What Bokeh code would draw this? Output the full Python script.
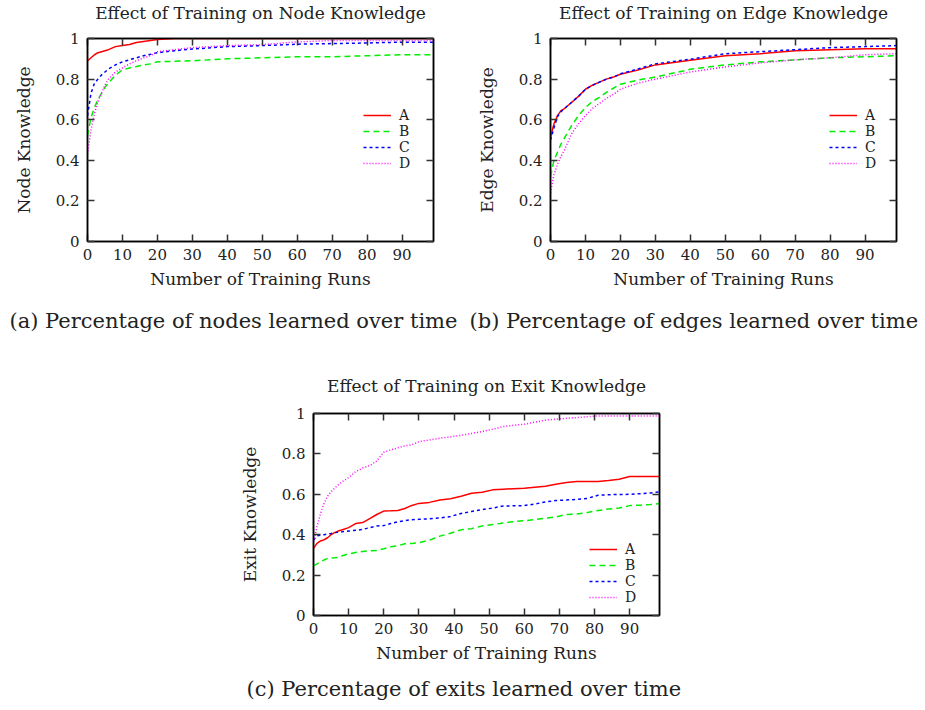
from bokeh.plotting import figure
from bokeh.models import Range1d, FixedTicker, LinearAxis, Legend, LegendItem, Title
from bokeh.layouts import column, row
from bokeh.embed import file_html
from bokeh.resources import INLINE

# ---------------- data ----------------
series_names = ["A", "B", "C", "D"]
x_ticks = [0, 10, 20, 30, 40, 50, 60, 70, 80, 90]
x_tick_labels = ["0", "10", "20", "30", "40", "50", "60", "70", "80", "90"]
y_ticks = [0, 0.2, 0.4, 0.6, 0.8, 1.0]
y_tick_labels = ["0", "0.2", "0.4", "0.6", "0.8", "1"]

runs = [0, 1, 2, 3, 4, 5, 6, 8, 10, 12, 14, 16, 18, 20, 25, 30, 40, 50, 60, 70, 80, 90, 99]

node_A = [0.89, 0.905, 0.92, 0.93, 0.935, 0.94, 0.945, 0.96, 0.965, 0.97, 0.98, 0.985, 0.99, 0.995, 1.0, 1.0, 1.0, 1.0, 1.0, 1.0, 1.0, 1.0, 1.0]
node_B = [0.52, 0.61, 0.66, 0.70, 0.73, 0.76, 0.78, 0.82, 0.845, 0.855, 0.862, 0.87, 0.875, 0.885, 0.888, 0.89, 0.90, 0.905, 0.91, 0.91, 0.915, 0.92, 0.92]
node_C = [0.62, 0.73, 0.78, 0.80, 0.82, 0.835, 0.85, 0.87, 0.885, 0.895, 0.905, 0.915, 0.922, 0.93, 0.94, 0.948, 0.96, 0.965, 0.972, 0.975, 0.978, 0.982, 0.982]
node_D = [0.43, 0.55, 0.63, 0.69, 0.73, 0.77, 0.80, 0.835, 0.855, 0.875, 0.89, 0.905, 0.915, 0.935, 0.945, 0.955, 0.965, 0.97, 0.983, 0.99, 0.99, 0.99, 0.99]

edge_A = [0.515, 0.58, 0.62, 0.645, 0.655, 0.67, 0.685, 0.715, 0.75, 0.77, 0.785, 0.80, 0.81, 0.824, 0.845, 0.87, 0.893, 0.915, 0.925, 0.94, 0.945, 0.95, 0.95]
edge_B = [0.32, 0.40, 0.44, 0.48, 0.51, 0.54, 0.57, 0.62, 0.66, 0.69, 0.71, 0.735, 0.755, 0.775, 0.795, 0.81, 0.848, 0.87, 0.885, 0.895, 0.905, 0.91, 0.915]
edge_C = [0.50, 0.56, 0.615, 0.64, 0.655, 0.67, 0.685, 0.715, 0.75, 0.77, 0.785, 0.80, 0.81, 0.826, 0.85, 0.875, 0.898, 0.925, 0.935, 0.945, 0.955, 0.96, 0.965]
edge_D = [0.24, 0.33, 0.38, 0.42, 0.45, 0.49, 0.53, 0.58, 0.62, 0.655, 0.68, 0.705, 0.725, 0.75, 0.78, 0.80, 0.835, 0.86, 0.88, 0.895, 0.905, 0.92, 0.925]

exit_runs = [0, 1, 2, 3, 4, 5, 6, 7, 8, 10, 12, 14, 16, 18, 20, 22, 24, 26, 28, 30, 33, 36, 39, 42, 45, 48, 51, 54, 57, 60, 63, 66, 69, 72, 75, 78, 81, 84, 87, 90, 93, 96, 99]
exit_A = [0.332, 0.357, 0.369, 0.375, 0.385, 0.40, 0.41, 0.418, 0.423, 0.435, 0.455, 0.46, 0.48, 0.50, 0.517, 0.518, 0.52, 0.53, 0.545, 0.555, 0.56, 0.572, 0.578, 0.59, 0.605, 0.61, 0.622, 0.625, 0.628, 0.63, 0.635, 0.64, 0.65, 0.658, 0.663, 0.663, 0.663, 0.668, 0.675, 0.688, 0.688, 0.688, 0.688]
exit_B = [0.246, 0.256, 0.266, 0.275, 0.283, 0.285, 0.286, 0.288, 0.295, 0.305, 0.312, 0.317, 0.32, 0.322, 0.33, 0.34, 0.345, 0.355, 0.357, 0.36, 0.373, 0.393, 0.407, 0.424, 0.43, 0.443, 0.45, 0.458, 0.465, 0.469, 0.475, 0.482, 0.488, 0.50, 0.502, 0.51, 0.52, 0.527, 0.532, 0.544, 0.546, 0.55, 0.555]
exit_C = [0.373, 0.395, 0.398, 0.40, 0.403, 0.406, 0.41, 0.412, 0.414, 0.418, 0.422, 0.426, 0.435, 0.443, 0.445, 0.455, 0.464, 0.47, 0.474, 0.476, 0.479, 0.483, 0.49, 0.505, 0.515, 0.524, 0.532, 0.542, 0.543, 0.544, 0.552, 0.562, 0.569, 0.572, 0.575, 0.58, 0.595, 0.598, 0.599, 0.60, 0.603, 0.607, 0.613]
exit_D = [0.365, 0.44, 0.506, 0.555, 0.59, 0.613, 0.63, 0.646, 0.66, 0.683, 0.712, 0.73, 0.742, 0.765, 0.808, 0.82, 0.83, 0.84, 0.845, 0.861, 0.869, 0.878, 0.884, 0.892, 0.901, 0.911, 0.922, 0.935, 0.942, 0.947, 0.957, 0.967, 0.972, 0.976, 0.98, 0.984, 0.988, 0.988, 0.988, 0.988, 0.988, 0.988, 0.988]

# ---------------- styles ----------------
SERIF = "DejaVu Serif"
colors = ["#ff0000", "#00ee00", "#0000ff", "#ff00ff"]
dashes = ["solid", "6 4", "3 3", "1 2"]


def make_panel(title, ylabel, caption, xs, ys_list, width, height, borders,
               x_end, legend_loc, cap_offset, top_pad, cap_standoff):
    bl, br, bt, bb = borders
    p = figure(width=width, height=height, output_backend="svg",
               toolbar_location=None,
               x_range=Range1d(0, x_end), y_range=Range1d(0, 1),
               min_border_left=bl, min_border_right=br,
               min_border_top=bt, min_border_bottom=bb,
               title=title)
    p.background_fill_color = "white"
    p.border_fill_color = "white"
    p.outline_line_color = "black"
    p.outline_line_width = 1.5
    p.xgrid.visible = False
    p.ygrid.visible = False

    p.title.align = "center"
    p.title.text_font = SERIF
    p.title.text_font_style = "normal"
    p.title.text_font_size = "17px"
    p.title.text_color = "#222222"
    p.title.standoff = 0

    p.xaxis.ticker = FixedTicker(ticks=x_ticks)
    p.xaxis.major_label_overrides = dict(zip(x_ticks, x_tick_labels))
    p.yaxis.ticker = FixedTicker(ticks=y_ticks)
    p.yaxis.major_label_overrides = dict(zip(y_ticks, y_tick_labels))
    p.xaxis.axis_label = "Number of Training Runs"
    p.yaxis.axis_label = ylabel
    for ax in (p.xaxis, p.yaxis):
        ax.axis_label_text_font = SERIF
        ax.axis_label_text_font_style = "normal"
        ax.axis_label_text_font_size = "17px"
        ax.axis_label_text_color = "#222222"
        ax.major_label_text_font = SERIF
        ax.major_label_text_font_size = "15px"
        ax.major_label_text_color = "#222222"
        ax.axis_line_color = "black"
        ax.axis_line_width = 1.5
        ax.major_tick_in = 7
        ax.major_tick_out = 0
        ax.major_tick_line_color = "#333333"
        ax.major_tick_line_width = 1.5
        ax.minor_tick_line_color = None
    p.xaxis.major_label_standoff = 7
    p.xaxis.axis_label_standoff = 6
    p.yaxis.major_label_standoff = 8
    p.yaxis.axis_label_standoff = 19

    # mirrored ticks on top and right (no labels)
    top_ax = LinearAxis(ticker=FixedTicker(ticks=x_ticks))
    right_ax = LinearAxis(ticker=FixedTicker(ticks=y_ticks))
    for ax in (top_ax, right_ax):
        ax.major_label_text_font_size = "0px"
        ax.major_label_text_color = None
        ax.major_label_standoff = 0
        ax.axis_line_color = "black"
        ax.axis_line_width = 1.5
        ax.major_tick_in = 7
        ax.major_tick_out = 0
        ax.major_tick_line_color = "#333333"
        ax.major_tick_line_width = 1.5
        ax.minor_tick_line_color = None
    p.add_layout(top_ax, "above")
    p.add_layout(right_ax, "right")

    # invisible spacer between the frame and the title
    spacer = LinearAxis(ticker=FixedTicker(ticks=x_ticks))
    spacer.major_label_text_font_size = "0px"
    spacer.major_label_text_color = None
    spacer.major_label_standoff = 0
    spacer.axis_line_color = None
    spacer.major_tick_line_color = None
    spacer.minor_tick_line_color = None
    spacer.major_tick_in = 0
    spacer.major_tick_out = top_pad
    p.add_layout(spacer, "above")

    items = []
    for name, ys, c, d in zip(series_names, ys_list, colors, dashes):
        r = p.line(xs, ys, line_color=c, line_dash=d, line_width=1.5)
        items.append(LegendItem(label=name, renderers=[r]))
    leg = Legend(items=items, location=legend_loc,
                 background_fill_alpha=0, border_line_color=None,
                 glyph_width=28, glyph_height=16, label_height=16,
                 spacing=0, padding=0, margin=0, label_standoff=8,
                 label_text_font=SERIF, label_text_font_size="14px",
                 label_text_color="#222222")
    p.add_layout(leg)

    cap = Title(text=caption, align="left", offset=cap_offset,
                text_font=SERIF, text_font_style="normal",
                text_font_size="21px", text_color="#222222",
                standoff=cap_standoff)
    p.add_layout(cap, "below")
    return p


pa = make_panel("Effect of Training on Node Knowledge", "Node Knowledge",
                "(a) Percentage of nodes learned over time", runs,
                [node_A, node_B, node_C, node_D], 462, 347,
                (87, 29, 38, 106), 99, (276, 70), -78, 16, 30)
pb = make_panel("Effect of Training on Edge Knowledge", "Edge Knowledge",
                "(b) Percentage of edges learned over time", runs,
                [edge_A, edge_B, edge_C, edge_D], 463, 347,
                (88, 29, 38, 106), 99, (279, 70), -81, 16, 30)
pc = make_panel("Effect of Training on Exit Knowledge", "Exit Knowledge",
                "(c) Percentage of exits learned over time", exit_runs,
                [exit_A, exit_B, exit_C, exit_D], 925, 363,
                (313, 266, 66, 95), 98.5, (276, 10), -67, 18, 19)

layout = column(row(pa, pb), pc)
open("out.html", "w").write(file_html(layout, INLINE))
